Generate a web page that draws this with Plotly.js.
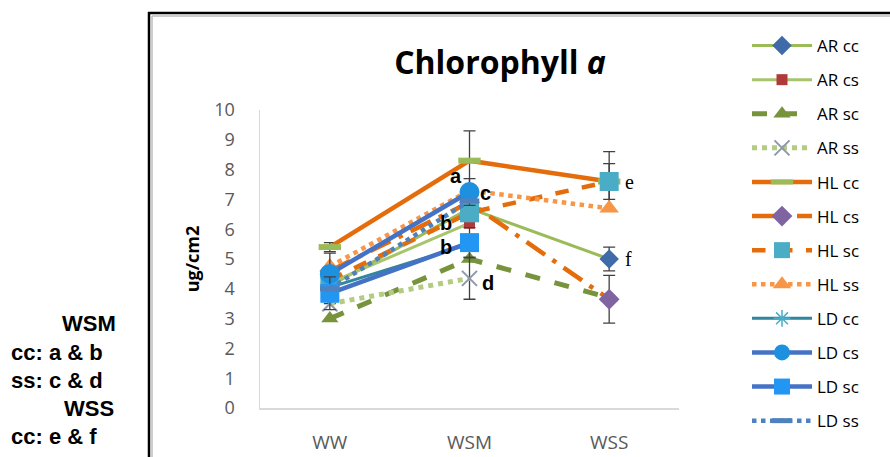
<!DOCTYPE html>
<html><head><meta charset="utf-8">
<script src="https://cdn.plot.ly/plotly-3.0.1.min.js"></script>
<style>html,body{margin:0;padding:0;background:#fff;}#chart{width:890px;height:457px;}</style>
</head><body><div id="chart"></div>
<script>
const categories = ['WW','WSM','WSS'];
const seriesNames = ['AR cc','AR cs','AR sc','AR ss','HL cc','HL cs','HL sc','HL ss','LD cc','LD cs','LD sc','LD ss'];
const AR_cc = [4.1, 6.7, 5.0];
const AR_cs = [4.2, 6.2, null];
const AR_sc = [3.0, 5.0, 3.7];
const AR_ss = [3.5, 4.35, null];
const HL_cc = [5.4, 8.3, 7.6];
const HL_cs = [4.6, 6.9, 3.65];
const HL_sc = [4.3, 6.55, 7.6];
const HL_ss = [4.75, 7.3, 6.7];
const LD_cc = [4.05, 5.5, null];
const LD_cs = [4.5, 7.25, null];
const LD_sc = [3.85, 5.55, null];
const LD_ss = [4.0, 6.95, null];
const err_AR_cc = [0, 0, 0.4];
const err_AR_ss = [0, 0.7, 0];
const err_HL_cc = [0.15, 1.0, 0.6];
const err_HL_cs = [0, 0, 0.8];
const err_HL_sc = [0, 0, 1.0];
const err_LD_cs = [0.7, 0.45, 0];
const err_LD_sc = [0.55, 0.5, 0];
const letterLabels = ['a','b','b','c','d','e','f'];

const W = 890, H = 457, L = 260, R = 211, T = 110, B = 49;
const pw = W - L - R, ph = H - T - B;
const px = v => (v - L) / pw;
const py = v => (H - B - v) / ph;

const values = [AR_cc, AR_cs, AR_sc, AR_ss, HL_cc, HL_cs, HL_sc, HL_ss, LD_cc, LD_cs, LD_sc, LD_ss];
const errs = [err_AR_cc, null, null, err_AR_ss, err_HL_cc, err_HL_cs, err_HL_sc, null, null, err_LD_cs, err_LD_sc, null];
const styles = [
  {lc:'#9BBB59', lw:3, dash:'solid', sym:'diamond', ms:15, mc:'#3F6BA8'},
  {lc:'#A9C46C', lw:3, dash:'solid', sym:'square', ms:11, mc:'#B03A3A'},
  {lc:'#77933C', lw:5, dash:'dash', sym:'triangle-up', ms:15, mc:'#77933C'},
  {lc:'#B4CC82', lw:5, dash:'dot', sym:'x-thin-open', ms:15, mc:'#8E98AA', mlw:2},
  {lc:'#E46C0A', lw:4.5, dash:'solid', sym:'line-ew-open', ms:16, mc:'#9BBB59', mlw:6},
  {lc:'#E46C0A', lw:4.5, dash:'longdashdot', sym:'diamond', ms:16, mc:'#8064A2'},
  {lc:'#E46C0A', lw:4.5, dash:'dash', sym:'square', ms:19, mc:'#4BACC6'},
  {lc:'#F79646', lw:4.5, dash:'dot', sym:'triangle-up', ms:17, mc:'#F79646'},
  {lc:'#31859C', lw:3, dash:'solid', sym:'asterisk-open', ms:14, mc:'#4BACC6', mlw:1.5},
  {lc:'#4472C4', lw:4.5, dash:'solid', sym:'circle', ms:20, mc:'#1E90E0'},
  {lc:'#4472C4', lw:4.5, dash:'solid', sym:'square', ms:19, mc:'#2196F3'},
  {lc:'#4F81BD', lw:4.5, dash:'dot', sym:'line-ew-open', ms:14, mc:'#4F81BD', mlw:5}
];

const traces = values.map((v, i) => {
  const s = styles[i];
  const t = {
    type:'scatter', mode:'lines+markers', name: seriesNames[i], x: categories, y: v,
    legendgroup: 'g' + i,
    line:{color:s.lc, width:s.lw, dash:s.dash},
    marker:{symbol:s.sym, size:s.ms, color:s.mc, line:{color:s.mc, width:s.mlw || 0}},
    connectgaps:false
  };
  if (errs[i]) t.error_y = {type:'data', array: errs[i], visible:true, color:'#404040', thickness:1.3, width:6};
  return t;
});

const letterPos = [
  {ci:1, val:7.8, dx:-14, family:'Liberation Sans', bold:true},
  {ci:1, val:6.2, dx:-24, family:'Liberation Sans', bold:true},
  {ci:1, val:5.4, dx:-24, family:'Liberation Sans', bold:true},
  {ci:1, val:7.2, dx:16, family:'Liberation Sans', bold:true},
  {ci:1, val:4.2, dx:18, family:'Liberation Sans', bold:true},
  {ci:2, val:7.6, dx:20, family:'Liberation Serif', bold:false},
  {ci:2, val:5.0, dx:19, family:'Liberation Serif', bold:false}
];
const annotations = letterLabels.map((t, i) => {
  const p = letterPos[i];
  return {x: categories[p.ci], y: p.val, xref:'x', yref:'y', text: p.bold ? '<b>'+t+'</b>' : t,
    showarrow:false, xshift:p.dx, font:{family:p.family, size:20, color:'#000'}};
});
const sideText = [
  {t:'<b>WSM</b>', x:60, y:323},
  {t:'<b>cc: a &amp; b</b>', x:9, y:352},
  {t:'<b>ss: c &amp; d</b>', x:9, y:380},
  {t:'<b>WSS</b>', x:62, y:408},
  {t:'<b>cc: e &amp; f</b>', x:9, y:436}
];
sideText.forEach(s => annotations.push({x:px(s.x), y:py(s.y), xref:'paper', yref:'paper', xanchor:'left', yanchor:'middle',
  text:s.t, showarrow:false, font:{family:'Liberation Sans, Arial, sans-serif', size:22, color:'#000'}}));

const shapes = [
  {type:'line', xref:'paper', yref:'paper', x0:px(149), x1:px(149), y0:py(12), y1:py(460), line:{color:'#000', width:2.5}},
  {type:'line', xref:'paper', yref:'paper', x0:px(148), x1:px(892), y0:py(13), y1:py(13), line:{color:'#000', width:2.5}},
  {type:'line', xref:'paper', yref:'paper', x0:px(152), x1:px(152), y0:py(16), y1:py(460), line:{color:'#BDBDBD', width:1.5}},
  {type:'line', xref:'paper', yref:'paper', x0:px(152), x1:px(892), y0:py(16), y1:py(16), line:{color:'#BDBDBD', width:1.5}}
];

const layout = {
  width:W, height:H, margin:{l:L, r:R, t:T, b:B},
  paper_bgcolor:'#fff', plot_bgcolor:'#fff',
  title:{text:'<b>Chlorophyll <i>a</i></b>', x:500/W, xref:'container', xanchor:'center', y:1-63/H, yref:'container', yanchor:'middle',
    font:{family:'Open Sans, sans-serif', size:32, color:'#000'}},
  xaxis:{type:'category', range:[-0.5, 2.5], showgrid:false, zeroline:false, showline:true, linecolor:'#D9D9D9', linewidth:1.5,
    ticks:'', ticklabelstandoff:17, tickfont:{family:'Open Sans, sans-serif', size:19, color:'#595959'}},
  yaxis:{range:[0,10], dtick:1, showgrid:false, zeroline:false, showline:true, linecolor:'#D9D9D9', linewidth:1.5,
    ticks:'', ticklabelstandoff:20, tickfont:{family:'Open Sans, sans-serif', size:18, color:'#595959'},
    title:{text:'<b>ug/cm2</b>', standoff:10, font:{family:'Open Sans, sans-serif', size:18, color:'#000'}}},
  showlegend:true,
  legend:{x:px(747), xanchor:'left', y:py(28), yanchor:'top', itemwidth:60, tracegroupgap:9, maxheight:1,
    font:{family:'Open Sans, sans-serif', size:17, color:'#000'}, bgcolor:'rgba(0,0,0,0)'},
  annotations, shapes
};
Plotly.newPlot('chart', traces, layout, {displayModeBar:false, staticPlot:true});
</script></body></html>
